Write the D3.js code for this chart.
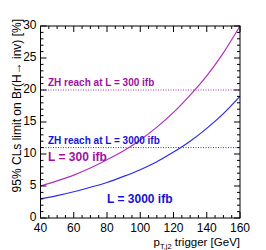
<!DOCTYPE html>
<html>
<head>
<meta charset="utf-8">
<script src="https://cdn.jsdelivr.net/npm/d3@7"></script>
<style>
body { margin: 0; background: #fff; }
svg { font-family: "Liberation Sans", Helvetica, Arial, sans-serif; }
</style>
</head>
<body>
<div id="chart"></div>
<script>
// pT trigger thresholds [GeV] and limits [%]
const ptTrigger = [40, 50, 60, 70, 80, 90, 100, 110, 120, 130, 140, 150, 160]
const limit300 = [5.0, 5.8, 6.7, 7.8, 9.1, 10.5, 12.2, 14.2, 16.5, 19.2, 22.2, 25.8, 30.0]
const limit3000 = [3.0, 3.5, 4.1, 4.8, 5.55, 6.5, 7.55, 8.8, 10.3, 12.0, 14.0, 16.3, 19.0]
const reach300 = 20
const reach3000 = 11
const xTicks = [40, 60, 80, 100, 120, 140, 160]
const yTicks = [0, 5, 10, 15, 20, 25, 30]

const purple = "#b030c0"
const purpleText = "#a0109f"
const blue = "#2a2af0"
const blueText = "#1414d0"

const w = 266
const h = 250
const m = {left: 40.5, right: 26, top: 26, bottom: 32}

const svg = d3.select("#chart").append("svg")
    .attr("width", w)
    .attr("height", h)

const x = d3.scaleLinear().domain([40, 160]).range([m.left, w - m.right])
const y = d3.scaleLinear().domain([0, 30]).range([h - m.bottom, m.top])

// reach lines (dotted)
svg.append("line")
    .attr("x1", x(40)).attr("x2", x(160))
    .attr("y1", y(reach300)).attr("y2", y(reach300))
    .attr("stroke", purple).attr("stroke-width", 1)
    .attr("stroke-dasharray", "1,1.5")
svg.append("line")
    .attr("x1", x(40)).attr("x2", x(160))
    .attr("y1", y(reach3000)).attr("y2", y(reach3000))
    .attr("stroke", blue).attr("stroke-width", 1)
    .attr("stroke-dasharray", "1,1.5")

const line = d3.line()
    .x((d, i) => x(ptTrigger[i]))
    .y(d => y(d))
    .curve(d3.curveMonotoneX)

svg.append("path").datum(limit300)
    .attr("d", line).attr("fill", "none")
    .attr("stroke", purple).attr("stroke-width", 1.2)
svg.append("path").datum(limit3000)
    .attr("d", line).attr("fill", "none")
    .attr("stroke", blue).attr("stroke-width", 1.2)

// frame
svg.append("rect")
    .attr("x", x(40)).attr("y", y(30))
    .attr("width", x(160) - x(40)).attr("height", y(0) - y(30))
    .attr("fill", "none").attr("stroke", "#000").attr("stroke-width", 1)

// ticks drawn inside on all four sides (ROOT style)
const xMinor = d3.range(40, 160.1, 5)
const yMinor = d3.range(0, 30.1, 1)
const tickG = svg.append("g").attr("stroke", "#000").attr("stroke-width", 1)
xMinor.forEach(v => {
    const len = v % 20 === 0 ? 6 : 3
    tickG.append("line").attr("x1", x(v)).attr("x2", x(v)).attr("y1", y(0)).attr("y2", y(0) - len)
    tickG.append("line").attr("x1", x(v)).attr("x2", x(v)).attr("y1", y(30)).attr("y2", y(30) + len)
})
yMinor.forEach(v => {
    const len = v % 5 === 0 ? 6 : 3
    tickG.append("line").attr("x1", x(40)).attr("x2", x(40) + len).attr("y1", y(v)).attr("y2", y(v))
    tickG.append("line").attr("x1", x(160)).attr("x2", x(160) - len).attr("y1", y(v)).attr("y2", y(v))
})

// tick labels
svg.append("g").selectAll("text").data(xTicks).enter().append("text")
    .attr("x", d => x(d)).attr("y", y(0) + 14)
    .attr("text-anchor", "middle").attr("font-size", 12)
    .text(d => d)
svg.append("g").selectAll("text").data(yTicks).enter().append("text")
    .attr("x", x(40) - 4).attr("y", d => y(d) + 3)
    .attr("text-anchor", "end").attr("font-size", 12)
    .text(d => d)

// axis titles
const xt = svg.append("text")
    .attr("x", x(160)).attr("y", 246)
    .attr("text-anchor", "end").attr("font-size", 11.5)
xt.append("tspan").text("p")
xt.append("tspan").attr("font-size", 7.5).attr("dy", 3).text("T,j2")
xt.append("tspan").attr("dy", -3).text(" trigger [GeV]")

svg.append("text")
    .attr("transform", `translate(21,${y(30) - 7}) rotate(-90)`)
    .attr("text-anchor", "end").attr("font-size", 12)
    .text("95% CLs limit on Br(H\u2192 inv) [%]")

// annotations
svg.append("text").attr("x", 48).attr("y", 86)
    .attr("font-size", 10).attr("font-weight", "bold").attr("fill", purpleText)
    .text("ZH reach at L = 300 ifb")
svg.append("text").attr("x", 48).attr("y", 144)
    .attr("font-size", 10).attr("font-weight", "bold").attr("fill", blueText)
    .text("ZH reach at L = 3000 ifb")
svg.append("text").attr("x", 48).attr("y", 161)
    .attr("font-size", 12).attr("font-weight", "bold").attr("fill", purpleText)
    .text("L = 300 ifb")
svg.append("text").attr("x", 107).attr("y", 203)
    .attr("font-size", 12).attr("font-weight", "bold").attr("fill", blueText)
    .text("L = 3000 ifb")
</script>
</body>
</html>
